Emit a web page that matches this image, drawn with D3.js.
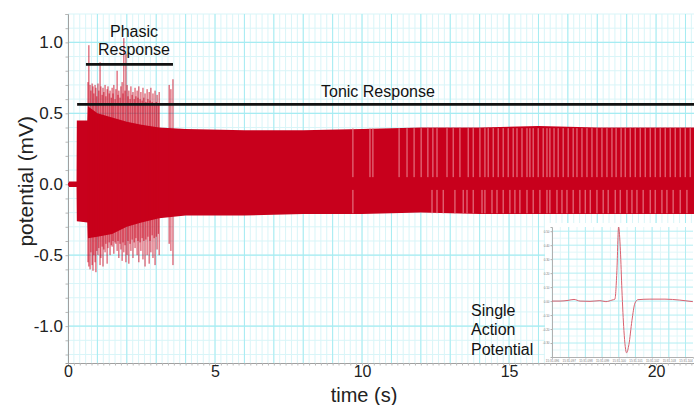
<!DOCTYPE html>
<html>
<head>
<meta charset="utf-8">
<script src="https://cdn.jsdelivr.net/npm/d3@7"></script>
<style>
  html, body { margin: 0; padding: 0; background: #fff; }
  svg { display: block; font-family: "Liberation Sans", Arial, Helvetica, sans-serif; }
</style>
</head>
<body>
<svg id="chart" width="694" height="405"></svg>
<script>
// envelope of the dense tonic firing (time s, top mV, bottom mV)
const envTime  = [0.00, 0.29, 0.30, 0.66, 0.68, 1.00, 1.50, 2.00, 2.50, 3.10, 4.00, 6.00, 8.00, 10.0, 12.0, 14.0, 16.0, 18.0, 20.0, 21.3];
const envTop   = [0.02, 0.02, 0.45, 0.45, 0.55, 0.50, 0.47, 0.44, 0.42, 0.40, 0.39, 0.38, 0.38, 0.39, 0.40, 0.40, 0.41, 0.40, 0.40, 0.40];
const envBot   = [-0.02, -0.02, -0.26, -0.27, -0.38, -0.37, -0.35, -0.30, -0.27, -0.24, -0.22, -0.22, -0.21, -0.21, -0.20, -0.21, -0.21, -0.21, -0.21, -0.21];

// big spikes of the phasic burst
const phasicTime = [0.68, 0.71, 0.75, 0.78, 0.82, 0.85, 0.88, 0.92, 0.95, 0.98, 1.02, 1.05, 1.09, 1.12, 1.16, 1.19, 1.22, 1.26, 1.29, 1.33, 1.36, 1.40, 1.43, 1.47, 1.50, 1.53, 1.56, 1.60, 1.63, 1.67, 1.70, 1.73, 1.77, 1.80, 1.84, 1.87, 1.90, 1.94, 1.97, 2.01, 2.04, 2.07, 2.11, 2.14, 2.18, 2.21, 2.25, 2.28, 2.31, 2.35, 2.38, 2.41, 2.45, 2.48, 2.52, 2.55, 2.58, 2.62, 2.65, 2.69, 2.72, 2.76, 2.79, 2.82, 2.86, 2.89, 2.93, 2.96, 3.00, 3.03, 3.07, 3.10, 3.44, 3.50, 3.57];
const phasicTop  = [0.72, 0.98, 0.70, 0.66, 0.71, 0.69, 0.64, 0.70, 0.68, 0.62, 0.71, 0.66, 0.86, 0.69, 0.63, 0.68, 0.65, 0.70, 0.62, 0.67, 0.69, 0.64, 0.66, 0.61, 0.68, 0.64, 0.70, 0.60, 0.67, 0.80, 0.63, 0.66, 0.61, 0.69, 0.72, 0.64, 1.03, 0.66, 0.92, 0.70, 0.62, 0.66, 0.60, 0.69, 0.63, 0.65, 0.60, 0.68, 0.62, 0.66, 0.61, 0.69, 0.60, 0.65, 0.59, 0.68, 0.61, 0.64, 0.58, 0.67, 0.60, 0.65, 0.59, 0.68, 0.58, 0.64, 0.57, 0.66, 0.58, 0.63, 0.56, 0.65, 0.70, 0.67, 0.74];
const phasicBot  = [-0.55, -0.58, -0.60, -0.48, -0.57, -0.61, -0.50, -0.55, -0.62, -0.47, -0.50, -0.45, -0.57, -0.52, -0.44, -0.58, -0.46, -0.48, -0.42, -0.56, -0.45, -0.41, -0.50, -0.43, -0.44, -0.40, -0.49, -0.41, -0.42, -0.47, -0.40, -0.52, -0.42, -0.46, -0.54, -0.41, -0.48, -0.43, -0.55, -0.50, -0.40, -0.56, -0.42, -0.47, -0.39, -0.52, -0.41, -0.45, -0.38, -0.50, -0.40, -0.55, -0.41, -0.47, -0.38, -0.53, -0.40, -0.58, -0.39, -0.50, -0.37, -0.56, -0.40, -0.48, -0.36, -0.52, -0.38, -0.57, -0.37, -0.46, -0.35, -0.50, -0.42, -0.47, -0.57];

// pauses between spikes in the tonic train (upper / lower half)
const upperGaps = [9.69, 10.27, 10.37, 11.26, 11.53, 11.77, 12.01, 12.24, 12.41, 12.55, 12.89, 13.10, 13.33, 13.61, 13.78, 14.01, 14.18, 14.29, 14.46, 14.63, 14.80, 14.97, 15.14, 15.27, 15.44, 15.61, 15.71, 15.82, 15.99, 16.16, 16.29, 16.39, 16.53, 16.67, 16.84, 17.01, 17.18, 17.31, 17.48, 17.65, 17.82, 17.99, 18.16, 18.33, 18.50, 18.64, 18.81, 18.95, 19.12, 19.29, 19.46, 19.63, 19.80, 19.97, 20.14, 20.31, 20.48, 20.65, 20.82, 20.99, 21.16];
const lowerGaps = [9.69, 12.38, 12.55, 12.76, 13.16, 13.44, 13.57, 13.78, 14.08, 14.18, 14.42, 14.59, 14.80, 15.03, 15.20, 15.37, 15.61, 15.82, 16.05, 16.29, 16.39, 16.63, 16.80, 16.97, 17.18, 17.41, 17.59, 17.76, 17.99, 18.20, 18.37, 18.61, 18.78, 19.01, 19.18, 19.35, 19.56, 19.80, 19.97, 20.20, 20.37, 20.58, 20.82, 21.05];

const xTicks = [0, 5, 10, 15, 20];
const yTicks = [-1.0, -0.5, 0.0, 0.5, 1.0];

// annotation bars
const phasicBar = { from: 0.61, to: 3.57, level: 0.845 };
const tonicBar = { from: 0.31, to: 21.3, level: 0.563 };

// single action potential (ms, mV)
const apTime = [0, 0.48, 0.96, 1.32, 1.68, 2.28, 2.87, 3.23, 3.59, 3.77, 3.89, 3.99, 4.10, 4.19, 4.31, 4.47, 4.61, 4.79, 4.97, 5.15, 5.87, 6.77, 7.66, 8.44];
const apValue = [0, 0.0, 0.005, 0.012, 0, -0.002, 0.003, -0.004, 0.007, 0.014, 0.22, 0.53, 0.36, 0.08, -0.21, -0.37, -0.31, -0.14, -0.015, 0.01, 0.014, 0.014, 0.007, -0.004];
const apYTicks = [0.5, 0.4, 0.3, 0.2, 0.1, 0.0, -0.1, -0.2, -0.3];
const apXTicks = [0, 1, 2, 3, 4, 5, 6, 7, 8];
const apXLabels = ["15:31.096", "15:31.097", "15:31.098", "15:31.099", "15:31.100", "15:31.101", "15:31.102", "15:31.103", "15:31.104"];

const svg = d3.select("#chart");
const width = 694;
const height = 405;
const margin = { top: 14, right: 0, bottom: 42, left: 68 };

const x = d3.scaleLinear().domain([0, 21.29]).range([margin.left, width - margin.right]);
const y = d3.scaleLinear().domain([-1.26, 1.2]).range([height - margin.bottom, margin.top]);

const red = "#c8001c";
// plain hyphen for negatives, like the original
const fmt = (f) => (d) => d3.format(f)(d).replace("\u2212", "-");

// grid
const grid = svg.append("g");
grid.selectAll(".vmin")
  .data(d3.range(0, 21.3, 0.2))
  .join("line")
  .attr("x1", (d) => x(d)).attr("x2", (d) => x(d))
  .attr("y1", y.range()[1]).attr("y2", y.range()[0])
  .attr("stroke", "#d9f5f8").attr("stroke-width", 1);
grid.selectAll(".hmin")
  .data(d3.range(-1.2, 1.21, 0.1))
  .join("line")
  .attr("x1", x.range()[0]).attr("x2", x.range()[1])
  .attr("y1", (d) => y(d)).attr("y2", (d) => y(d))
  .attr("stroke", "#d9f5f8").attr("stroke-width", 1);
grid.selectAll(".vmaj")
  .data(d3.range(1, 22, 1))
  .join("line")
  .attr("x1", (d) => x(d)).attr("x2", (d) => x(d))
  .attr("y1", y.range()[1]).attr("y2", y.range()[0])
  .attr("stroke", "#a6ecf2").attr("stroke-width", 1);
grid.selectAll(".hmaj")
  .data([-1.0, -0.5, 0.5, 1.0])
  .join("line")
  .attr("x1", x.range()[0]).attr("x2", x.range()[1])
  .attr("y1", (d) => y(d)).attr("y2", (d) => y(d))
  .attr("stroke", "#a6ecf2").attr("stroke-width", 1.2);

// tonic envelope
const env = envTime.map((t, i) => ({ t, top: envTop[i], bot: envBot[i] }));
svg.append("path")
  .datum(env)
  .attr("fill", red)
  .attr("d", d3.area().x((d) => x(d.t)).y0((d) => y(d.bot)).y1((d) => y(d.top)));

// phasic spikes
const spikes = phasicTime.map((t, i) => ({ t, top: phasicTop[i], bot: phasicBot[i] }));
svg.append("g")
  .selectAll("line")
  .data(spikes)
  .join("line")
  .attr("x1", (d) => x(d.t)).attr("x2", (d) => x(d.t))
  .attr("y1", (d) => y(d.top)).attr("y2", (d) => y(d.bot))
  .attr("stroke", red).attr("stroke-width", 1).attr("stroke-opacity", 0.8);

// gaps in the tonic train
const gapColor = "#ea8894";
svg.append("g")
  .selectAll("line")
  .data(upperGaps)
  .join("line")
  .attr("x1", (d) => x(d)).attr("x2", (d) => x(d))
  .attr("y1", y(0.395)).attr("y2", y(0.05))
  .attr("stroke", gapColor).attr("stroke-width", 1);
svg.append("g")
  .selectAll("line")
  .data(lowerGaps)
  .join("line")
  .attr("x1", (d) => x(d)).attr("x2", (d) => x(d))
  .attr("y1", y(-0.04)).attr("y2", y(-0.205))
  .attr("stroke", gapColor).attr("stroke-width", 1);

// axes
const axisColor = "#a0a0a0";
const xMinor = svg.append("g")
  .attr("transform", `translate(0,${y.range()[0]})`)
  .call(d3.axisBottom(x).tickValues(d3.range(0, 21.3, 0.2)).tickSize(2.5).tickFormat(""));
xMinor.select(".domain").attr("stroke", axisColor);
xMinor.selectAll(".tick line").attr("stroke", "#b8b8b8");

const xAxis = svg.append("g")
  .attr("transform", `translate(0,${y.range()[0]})`)
  .call(d3.axisBottom(x).tickValues(xTicks).tickSize(0).tickPadding(3).tickFormat(fmt("d")));
xAxis.select(".domain").remove();
xAxis.selectAll("text")
  .attr("font-family", "Liberation Sans, Arial, sans-serif")
  .style("font-size", "16px").attr("fill", "#222");

const yMinor = svg.append("g")
  .attr("transform", `translate(${x.range()[0]},0)`)
  .call(d3.axisLeft(y).tickValues(d3.range(-1.2, 1.21, 0.1)).tickSize(2.5).tickFormat(""));
yMinor.select(".domain").attr("stroke", axisColor);
yMinor.selectAll(".tick line").attr("stroke", "#b8b8b8");

const yAxis = svg.append("g")
  .attr("transform", `translate(${x.range()[0]},0)`)
  .call(d3.axisLeft(y).tickValues(yTicks).tickSize(0).tickPadding(5).tickFormat(fmt(".1f")));
yAxis.select(".domain").remove();
yAxis.selectAll("text")
  .attr("font-family", "Liberation Sans, Arial, sans-serif")
  .style("font-size", "17px").attr("fill", "#222");

// baseline at rest before stimulus drawn over the axis
svg.append("line")
  .attr("x1", x(0)).attr("x2", x(0.3))
  .attr("y1", y(0)).attr("y2", y(0))
  .attr("stroke", red).attr("stroke-width", 3);

// axis titles
svg.append("text")
  .attr("transform", `translate(33,${y(0) - 3}) rotate(-90)`)
  .attr("text-anchor", "middle")
  .style("font-size", "21px").attr("fill", "#222")
  .text("potential (mV)");
svg.append("text")
  .attr("x", 364).attr("y", 402)
  .attr("text-anchor", "middle")
  .style("font-size", "20px").attr("fill", "#222")
  .text("time (s)");

// annotation bars and labels
[phasicBar, tonicBar].forEach((b) => {
  svg.append("line")
    .attr("x1", x(b.from)).attr("x2", x(b.to))
    .attr("y1", y(b.level)).attr("y2", y(b.level))
    .attr("stroke", "#111").attr("stroke-width", 2.6);
});
const phasicLabel = svg.append("text")
  .attr("text-anchor", "middle")
  .style("font-size", "16px").attr("fill", "#111");
phasicLabel.append("tspan").attr("x", 134).attr("y", 37).text("Phasic");
phasicLabel.append("tspan").attr("x", 134).attr("y", 55).text("Response");

svg.append("text")
  .attr("x", 321).attr("y", 97)
  .style("font-size", "16px").attr("fill", "#111")
  .text("Tonic Response");

const apLabel = svg.append("text")
  .style("font-size", "16px").attr("fill", "#111");
apLabel.append("tspan").attr("x", 471).attr("y", 316).text("Single");
apLabel.append("tspan").attr("x", 471).attr("y", 335).text("Action");
apLabel.append("tspan").attr("x", 471).attr("y", 355).text("Potential");

// inset: single action potential
const inset = svg.append("g");
inset.append("rect")
  .attr("x", 545).attr("y", 223).attr("width", 149).attr("height", 140)
  .attr("fill", "#fff");

const ix = d3.scaleLinear().domain([0, 8.45]).range([552, 693]);
const iy = d3.scaleLinear().domain([-0.4, 0.53]).range([357, 227]);

inset.selectAll(".ivmin")
  .data(d3.range(0, 8.5, 0.5))
  .join("line")
  .attr("x1", (d) => ix(d)).attr("x2", (d) => ix(d))
  .attr("y1", iy.range()[1]).attr("y2", iy.range()[0])
  .attr("stroke", "#e1f7f9");
inset.selectAll(".ihmin")
  .data(d3.range(-0.35, 0.53, 0.1))
  .join("line")
  .attr("x1", ix.range()[0]).attr("x2", ix.range()[1])
  .attr("y1", (d) => iy(d)).attr("y2", (d) => iy(d))
  .attr("stroke", "#e1f7f9");
inset.selectAll(".ivmaj")
  .data(d3.range(1, 8.5, 1))
  .join("line")
  .attr("x1", (d) => ix(d)).attr("x2", (d) => ix(d))
  .attr("y1", iy.range()[1]).attr("y2", iy.range()[0])
  .attr("stroke", "#b3eef3");
inset.selectAll(".ihmaj")
  .data(apYTicks)
  .join("line")
  .attr("x1", ix.range()[0]).attr("x2", ix.range()[1])
  .attr("y1", (d) => iy(d)).attr("y2", (d) => iy(d))
  .attr("stroke", "#b3eef3");

const iyAxis = inset.append("g")
  .attr("transform", `translate(${ix.range()[0]},0)`)
  .call(d3.axisLeft(iy).tickValues(apYTicks).tickSize(1.5).tickPadding(1).tickFormat(fmt(".2f")));
iyAxis.select(".domain").attr("stroke", "#b0b0b0");
iyAxis.selectAll(".tick line").attr("stroke", "#b0b0b0");
iyAxis.selectAll("text").style("font-size", "3px").attr("fill", "#777");

const ixAxis = inset.append("g")
  .attr("transform", `translate(0,${iy.range()[0]})`)
  .call(d3.axisBottom(ix).tickValues(apXTicks).tickSize(1.5).tickPadding(1).tickFormat((d, i) => apXLabels[i]));
ixAxis.select(".domain").attr("stroke", "#b0b0b0");
ixAxis.selectAll(".tick line").attr("stroke", "#b0b0b0");
ixAxis.selectAll("text").style("font-size", "3px").attr("fill", "#777");

const ap = apTime.map((t, i) => ({ t, v: apValue[i] }));
inset.append("path")
  .datum(ap)
  .attr("fill", "none")
  .attr("stroke", "#d9606e")
  .attr("stroke-width", 1)
  .attr("d", d3.line().x((d) => ix(d.t)).y((d) => iy(d.v)).curve(d3.curveMonotoneX));
</script>
</body>
</html>
